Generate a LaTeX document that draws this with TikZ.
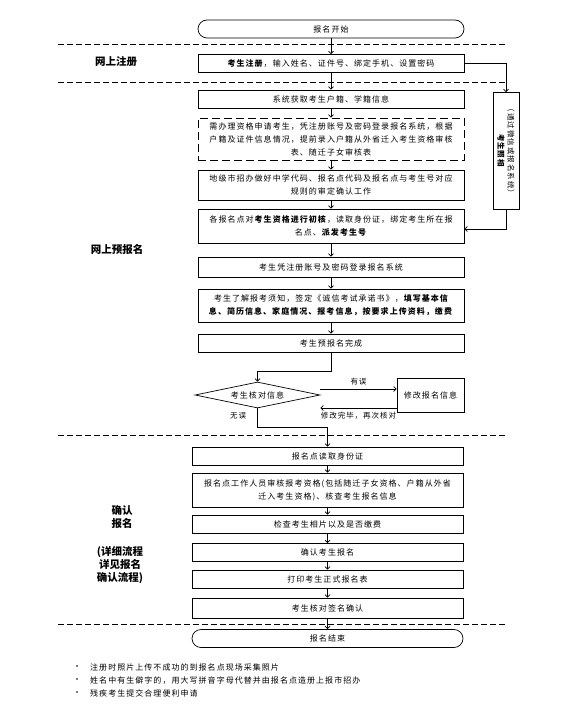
\documentclass[tikz,border=0pt]{standalone}
\usepackage{fontspec}
\setmainfont{Noto Sans CJK SC}[LetterSpace=13]
\newfontfamily\headfont{Noto Sans CJK SC}
\usetikzlibrary{arrows.meta,shapes.geometric}
\tikzset{
  stepbox/.style={draw, line width=0.7pt, minimum width=266pt, minimum height=18pt,
    text width=258pt, align=center, inner sep=3pt, font=\fontsize{8}{13}\selectfont},
  lowbox/.style={stepbox, minimum width=271pt, text width=263pt},
  endbox/.style={stepbox, rounded corners=9pt},
  flow/.style={-{Straight Barb[length=2.6pt,width=5pt]}, line width=0.7pt},
  sepln/.style={dash pattern=on 6pt off 3pt, line width=0.7pt},
  stagelbl/.style={font=\headfont\bfseries\fontsize{10.5}{13}\selectfont, align=center},
  flowlbl/.style={font=\fontsize{7.5}{9}\selectfont, inner sep=1pt},
  note/.style={font=\fontsize{8}{10}\selectfont, anchor=west, inner sep=0pt},
}

\begin{document}
\begin{tikzpicture}[x=1pt, y=-1pt]
    \useasboundingbox (0,0) rectangle (564,708);
    % Separators
    \draw[sepln] (58,44) -- (505,44);
    \draw[sepln] (58,82) -- (505,82);
    \draw[sepln] (58,435) -- (505,435);
    \draw[sepln] (58,624) -- (505,624);
    % Stage labels
    \node[stagelbl] (lblreg) at (116,62) {网上注册};
    \node[stagelbl] (lblpre) at (117,250) {网上预报名};
    \node[stagelbl] (lblcfm) at (122,517) {确认\\报名};
    \node[stagelbl] (lbldet) at (120,565) {(详细流程\\详见报名\\确认流程)};
    % Online registration
    \node[endbox] (start) at (331,29) {报名开始};
    \node[stepbox] (reg) at (331,63.5) {\textbf{考生注册}，输入姓名、证件号、绑定手机、设置密码};
    % Online pre-registration
    \node[stepbox] (sys) at (331,99) {系统获取考生户籍、学籍信息};
    \node[stepbox, dash pattern=on 8pt off 4pt, minimum height=42pt] (apply) at (331,139)
      {需办理资格申请考生，凭注册账号及密码登录报名系统，根据\\户籍及证件信息情况，提前录入户籍从外省迁入考生资格审核\\表、随迁子女审核表};
    \node[stepbox, minimum height=30pt] (city) at (331,185)
      {地级市招办做好中学代码、报名点代码及报名点与考生号对应\\规则的审定确认工作};
    \node[stepbox, minimum height=34pt] (check) at (331,226)
      {各报名点对\textbf{考生资格进行初核}，读取身份证，绑定考生所在报\\名点、\textbf{派发考生号}};
    \node[stepbox, minimum height=20pt] (login) at (331,267) {考生凭注册账号及密码登录报名系统};
    \node[stepbox, minimum height=33pt] (fill) at (331,305.5)
      {考生了解报考须知，签定《诚信考试承诺书》，\textbf{填写基本信\\息、简历信息、家庭情况、报考信息，按要求上传资料，缴费}};
    \node[stepbox] (done) at (331,343) {考生预报名完成};
    \node[draw, rotate=-90, line width=0.7pt, minimum width=117pt, minimum height=26pt,
      align=center, inner sep=1pt, font=\fontsize{7.5}{10}\selectfont] (upload) at (506,151)
      {（通过微信或报名系统）\\\textbf{考生照相}};
    % Check loop
    \node[draw, diamond, aspect=4.8, line width=0.7pt, minimum width=125pt, minimum height=26pt,
      inner sep=1pt, font=\fontsize{8}{10}\selectfont] (verify) at (257.5,395) {考生核对信息};
    \node[draw, line width=0.7pt, minimum width=67pt, minimum height=34pt,
      font=\fontsize{8}{10}\selectfont] (modify) at (430.5,395) {修改报名信息};
    % Confirmation
    \node[lowbox] (readid) at (327.5,456) {报名点读取身份证};
    \node[lowbox, minimum height=34pt] (audit) at (327.5,490)
      {报名点工作人员审核报考资格(包括随迁子女资格、户籍从外省\\迁入考生资格)、核查考生报名信息};
    \node[lowbox] (photo) at (327.5,524) {检查考生相片以及是否缴费};
    \node[lowbox] (confirm) at (327.5,552.5) {确认考生报名};
    \node[lowbox] (print) at (327.5,579) {打印考生正式报名表};
    \node[lowbox, minimum height=20pt] (sign) at (327.5,608) {考生核对签名确认};
    \node[endbox, minimum width=271pt] (finish) at (327.5,638.5) {报名结束};
    % Connectors
    \draw[flow] (start) -- (reg);
    \draw[flow] (reg) -- (sys);
    \draw[flow] (sys) -- (apply);
    \draw[flow] (apply) -- (city);
    \draw[flow] (city) -- (check);
    \draw[flow] (check) -- (login);
    \draw[flow] (login) -- (fill);
    \draw[flow] (fill) -- (done);
    \draw[flow] (reg.east) -| (upload.west);
    \draw[flow] (upload.east) |- ([yshift=-3pt]check.east);
    \draw[flow] (done.south) -- ++(0,19) -| (verify.north);
    \draw[flow] ([yshift=6pt]verify.east) -- ([yshift=6pt]modify.west)
      node[midway, above=3pt, flowlbl] {有误};
    \draw[flow] ([yshift=-13pt]modify.west) -- ([yshift=-13pt]verify.east)
      node[midway, below=3pt, flowlbl] {修改完毕，再次核对};
    \draw[flow] (verify.south) -- node[pos=0.4, left=10pt, flowlbl] {无误} ++(0,19) -| (readid.north);
    \draw[flow] (readid) -- (audit);
    \draw[flow] (audit) -- (photo);
    \draw[flow] (photo) -- (confirm);
    \draw[flow] (confirm) -- (print);
    \draw[flow] (print) -- (sign);
    \draw[flow] (sign) -- (finish);
    % Notes
    \foreach \txt [count=\i] in {注册时照片上传不成功的到报名点现场采集照片,
        姓名中有生僻字的，用大写拼音字母代替并由报名点造册上报市招办,
        残疾考生提交合理便利申请}{
      \node[note] (dot\i) at (73,655+12.8*\i) {•};
      \node[note] (note\i) at (90,655+12.8*\i) {\txt};
    }
\end{tikzpicture}
\end{document}
